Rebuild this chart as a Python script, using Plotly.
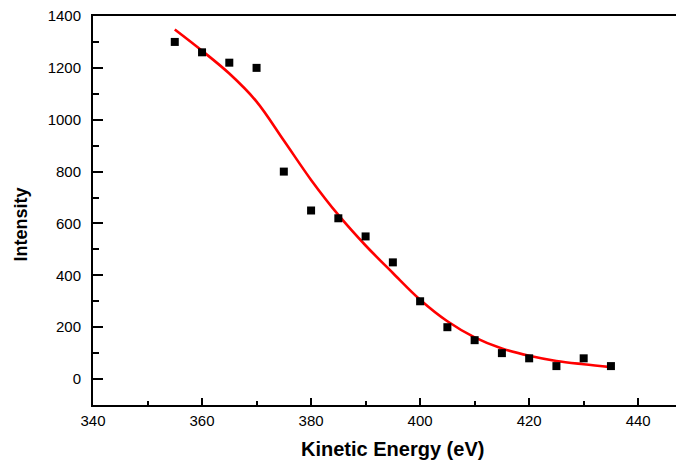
import plotly.graph_objects as go

# Data
energy = [355, 360, 365, 370, 375, 380, 385, 390, 395, 400, 405, 410, 415, 420, 425, 430, 435]
intensity = [1300, 1260, 1220, 1200, 800, 650, 620, 550, 450, 300, 200, 150, 100, 80, 50, 80, 50]
fit_intensity = [1348, 1266, 1178, 1070, 920, 768, 633, 515, 409, 306, 223, 161, 118, 90, 70, 57, 46]

x_ticks = [340, 360, 380, 400, 420, 440]
y_ticks = [0, 200, 400, 600, 800, 1000, 1200, 1400]

FONT = "Liberation Sans, Arial, sans-serif"

# page body has an 8px default margin; plot area spans page x 93..684, y 16..405
PW, PH = 591.0, 389.0

fig = go.Figure()
fig.add_trace(go.Scatter(
    x=energy, y=fit_intensity, mode="lines",
    line=dict(color="#ff0000", width=2.6, shape="spline", smoothing=1.0),
    showlegend=False, hoverinfo="skip"))
fig.add_trace(go.Scatter(
    x=energy, y=intensity, mode="markers",
    marker=dict(symbol="square", size=8, color="black", line=dict(width=0)),
    showlegend=False))

fig.update_layout(
    width=676, height=458,
    margin=dict(l=85, r=0, t=8, b=61),
    paper_bgcolor="white", plot_bgcolor="white",
    font=dict(family=FONT, color="black"),
    xaxis=dict(
        range=[340, 448.4], tickvals=x_ticks, ticktext=[str(v) for v in x_ticks],
        ticks="inside", ticklen=7, tickwidth=2, tickcolor="black",
        minor=dict(dtick=10, tick0=340, ticks="inside", ticklen=4, tickwidth=2, tickcolor="black"),
        showline=True, linewidth=2, linecolor="black", mirror=True,
        showgrid=False, zeroline=False,
        tickfont=dict(size=15, family=FONT, color="black"),
        ticklabelstandoff=1, ticklabeloverflow="allow",
    ),
    yaxis=dict(
        range=[-100, 1400], tickvals=y_ticks, ticktext=[str(v) for v in y_ticks],
        ticks="inside", ticklen=10, tickwidth=2, tickcolor="black",
        minor=dict(dtick=100, tick0=0, ticks="inside", ticklen=6, tickwidth=2, tickcolor="black"),
        showline=True, linewidth=2, linecolor="black",
        showgrid=False, zeroline=False,
        tickfont=dict(size=15, family=FONT, color="black"),
        ticklabelstandoff=7, ticklabeloverflow="allow",
    ),
    annotations=[
        dict(text="<b>Kinetic Energy (eV)</b>", xref="paper", yref="paper",
             x=(392 - 93) / PW, y=-(462 - 405) / PH, xanchor="center", yanchor="bottom",
             showarrow=False, font=dict(size=20, family=FONT, color="black")),
        dict(text="<b>Intensity</b>", xref="paper", yref="paper",
             x=-(93 - 20) / PW, y=(405 - 224.5) / PH, xanchor="center", yanchor="middle",
             textangle=-90, showarrow=False, font=dict(size=18, family=FONT, color="black")),
    ],
)

fig.write_html("out.html")
